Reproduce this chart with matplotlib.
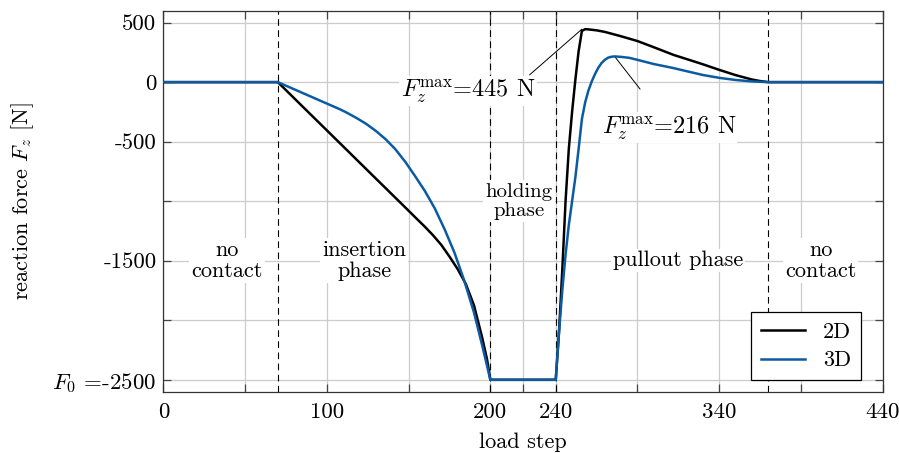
import matplotlib
matplotlib.use("Agg")
import matplotlib.pyplot as plt
import numpy as np

# reaction force over load steps, 2D and 3D model
steps_2d = [0, 70, 100, 130, 150, 155, 160, 165, 170, 175, 180, 185, 190, 195, 198, 200,
            240, 242, 244, 246, 248, 250, 252, 254, 256, 258, 260, 265, 270, 280,
            290, 300, 312, 320, 330, 340, 350, 360, 365, 370, 440]
force_2d = [0, 0, -405, -810, -1080, -1148, -1215, -1287, -1367, -1465, -1570, -1695,
            -1875, -2145, -2330, -2500, -2500, -2100, -1580, -1000, -560, -250, 20, 260,
            430, 445, 443, 435, 422, 385, 345, 293, 229, 194, 150, 103, 59, 22, 9, 0, 0]

steps_3d = [0, 70, 100, 108, 112, 118, 124, 130, 136, 142, 148, 154, 160, 166, 172,
            178, 184, 190, 195, 200, 240, 242, 244, 246, 248, 250, 252, 254, 256, 258,
            260, 262, 264, 266, 268, 270, 272, 274, 276, 280, 285, 290, 300, 312, 320,
            330, 340, 350, 360, 370, 440]
force_3d = [0, 0, -180, -228, -255, -300, -350, -410, -480, -565, -670, -790, -915,
            -1060, -1235, -1430, -1665, -1935, -2210, -2500, -2500, -2100, -1750, -1450,
            -1200, -1000, -800, -560, -310, -170, -70, 5, 68, 120, 160, 187, 205, 213,
            216, 212, 204, 187, 152, 118, 92, 60, 36, 18, 6, 0, 0]

phase_bounds = [70, 200, 240, 370]
xticks = [0, 50, 100, 150, 200, 220, 240, 290, 340, 390, 440]
xtick_labels = ["0", "", "100", "", "200", "", "240", "", "340", "", "440"]
yticks = [-2500, -2000, -1500, -1000, -500, 0, 500]
ytick_labels = ["$F_0$ =-2500", "", "-1500", "", "-500", "0", "500"]

blue = "#0b5ba3"

plt.rcParams["font.family"] = ["cmr10", "DejaVu Serif"]
plt.rcParams["mathtext.fontset"] = "cm"
plt.rcParams["axes.unicode_minus"] = False
plt.rcParams["axes.formatter.use_mathtext"] = True

fig = plt.figure(figsize=(8.99, 4.53), dpi=100)
ax = fig.add_axes([0.1817, 0.1353, 0.8002, 0.8411])

ax.plot(steps_2d, force_2d, color="black", lw=1.8, label="2D", zorder=5)
ax.plot(steps_3d, force_3d, color=blue, lw=1.8, label="3D", zorder=5)

for xb in phase_bounds:
    ax.axvline(xb, color="black", lw=0.8, ls=(0, (6, 4)), zorder=2)

ax.set_xlim(0, 440)
ax.set_ylim(-2600, 600)
ax.set_xticks(xticks)
ax.set_xticklabels(xtick_labels)
ax.set_yticks(yticks)
ax.set_yticklabels(ytick_labels)
ax.grid(True, color="#cccccc", lw=0.9, zorder=1)
ax.set_axisbelow(True)
ax.tick_params(direction="in", length=6, width=0.9, color="#444444",
               top=True, right=True, labelsize=16.5)
ax.tick_params(axis="x", pad=8)
ax.tick_params(axis="y", pad=5)
for sp in ax.spines.values():
    sp.set_color("#333333")
    sp.set_linewidth(0.9)

ax.set_xlabel("load step", fontsize=16, labelpad=7)
ax.set_ylabel("reaction force $F_z$ [N]", fontsize=16, labelpad=12)

box = dict(fc="white", ec="none", pad=1.5)
txt = dict(fontsize=16, ha="center", va="center", bbox=box, zorder=3, linespacing=1.1)
ax.text(39, -1500, "no\ncontact", **txt)
ax.text(123, -1500, "insertion\nphase", **txt)
ax.text(217.5, -1000, "holding\nphase", **dict(txt, fontsize=15))
ax.text(315, -1500, "pullout phase", **txt)
ax.text(402, -1500, "no\ncontact", **txt)

# peak annotations
i2 = int(np.argmax(force_2d))
i3 = int(np.argmax(force_3d))
peak_2d = force_2d[i2]
peak_3d = force_3d[i3]
ax.text(227.5, -121, r"$F_z^{\rm max}$=%d N" % peak_2d, fontsize=17.5, ha="right",
        va="baseline", bbox=dict(fc="white", ec="none", pad=1), zorder=3)
ax.annotate("", xy=(steps_2d[i2] - 2, peak_2d), xytext=(224, 61),
            arrowprops=dict(arrowstyle="-", lw=0.7, color="black",
                            shrinkA=0, shrinkB=0), zorder=4)
ax.text(268, -429, r"$F_z^{\rm max}$=%d N" % peak_3d, fontsize=17.5, ha="left",
        va="baseline", bbox=dict(fc="white", ec="none", pad=1), zorder=3)
ax.annotate("", xy=(steps_3d[i3], peak_3d), xytext=(291.6, -59),
            arrowprops=dict(arrowstyle="-", lw=0.7, color="black",
                            shrinkA=0, shrinkB=0), zorder=4)

leg = ax.legend(loc="lower right", bbox_to_anchor=(0.97, 0.03), borderaxespad=0,
                fontsize=16, fancybox=False, framealpha=1, edgecolor="black",
                handlelength=2.0, borderpad=0.45, labelspacing=0.4)
leg.get_frame().set_linewidth(0.9)
leg.set_zorder(6)

fig.savefig("out.png", dpi=100)
